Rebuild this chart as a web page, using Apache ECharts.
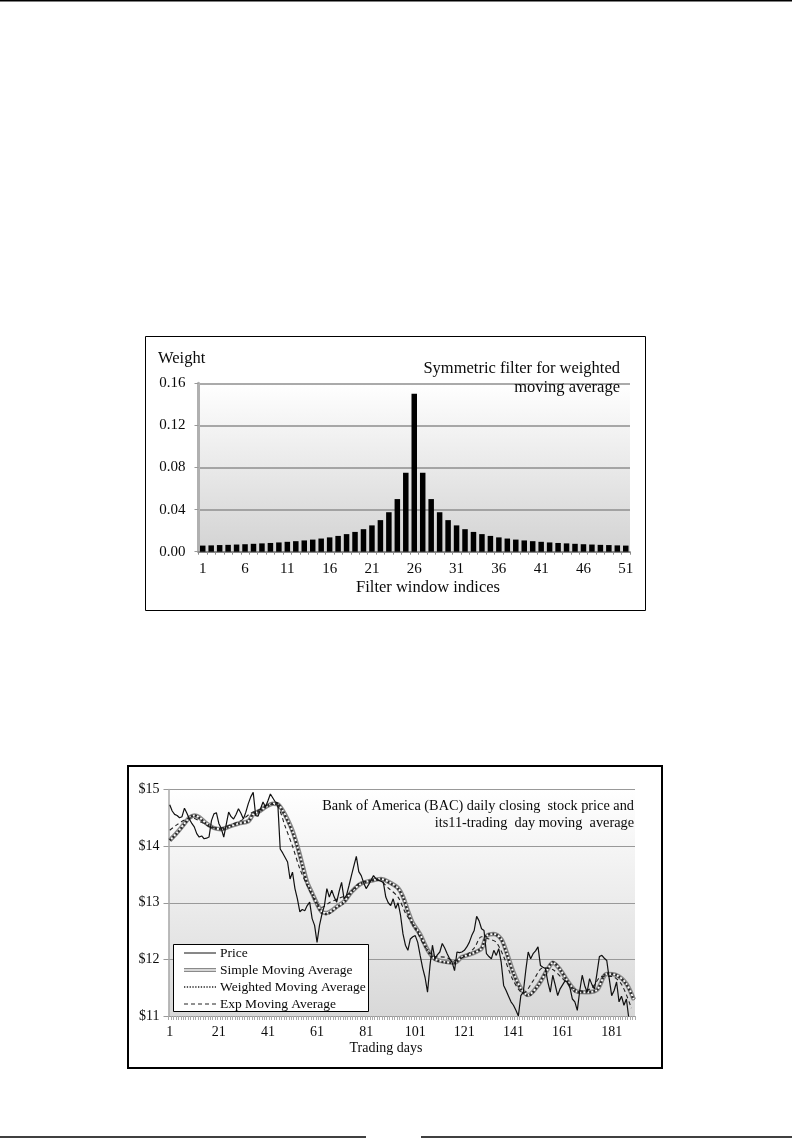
<!DOCTYPE html>
<html>
<head>
<meta charset="utf-8">
<script src="https://cdn.jsdelivr.net/npm/echarts@6/dist/echarts.min.js"></script>
<style>
html,body{margin:0;padding:0;background:#fff;}
#c{width:792px;height:1142px;}
</style>
</head>
<body>
<div id="c"></div>
<script>
// ---------- Chart 1 data ----------
var filterIndices = [];
for (var i = 1; i <= 51; i++) filterIndices.push(String(i));
var filterWeights = [0.0058,0.0060,0.0063,0.0065,0.0068,0.0071,0.0075,0.0079,0.0083,0.0088,0.0094,0.0100,0.0107,0.0115,0.0125,0.0136,0.0150,0.0167,0.0188,0.0214,0.0250,0.0300,0.0375,0.0500,0.0750,0.1500,0.0750,0.0500,0.0375,0.0300,0.0250,0.0214,0.0188,0.0167,0.0150,0.0136,0.0125,0.0115,0.0107,0.0100,0.0094,0.0088,0.0083,0.0079,0.0075,0.0071,0.0068,0.0065,0.0063,0.0060,0.0058];
var weightTicks = [0, 0.04, 0.08, 0.12, 0.16];

// ---------- Chart 2 data ----------
var tradingDays = [];
for (var d = 1; d <= 190; d++) tradingDays.push(String(d));
var price = [14.73,14.62,14.56,14.54,14.50,14.52,14.67,14.58,14.48,14.40,
14.34,14.22,14.16,14.18,14.13,14.14,14.16,14.45,14.57,14.59,
14.40,14.31,14.16,14.38,14.60,14.52,14.48,14.56,14.66,14.58,
14.48,14.60,14.75,14.87,14.95,14.54,14.53,14.66,14.78,14.69,
14.80,14.92,14.85,14.78,14.76,13.95,13.88,13.80,13.72,13.42,
13.54,13.25,13.07,12.84,12.88,12.86,12.95,13.01,12.72,12.60,
12.30,12.60,12.80,12.95,13.25,13.10,13.22,13.10,13.01,13.20,
13.36,13.07,13.13,13.30,13.48,13.65,13.82,13.55,13.48,13.35,
13.25,13.32,13.40,13.48,13.42,13.40,13.38,13.36,13.10,13.00,
12.95,13.07,12.90,13.00,12.78,12.45,12.25,12.16,12.36,12.40,
12.42,12.30,12.07,11.85,11.68,11.42,11.89,12.25,12.01,12.08,
12.13,12.28,12.20,12.10,12.01,11.95,11.80,12.13,12.12,12.13,
12.16,12.22,12.30,12.42,12.51,12.76,12.68,12.54,12.51,12.10,
12.05,12.01,12.16,12.07,12.19,11.95,11.54,11.45,11.35,11.25,
11.19,11.10,11.00,11.36,11.42,11.80,12.13,12.01,12.10,12.15,
12.22,11.89,11.86,11.84,11.60,11.42,11.72,11.55,11.36,11.48,
11.55,11.62,11.60,11.50,11.30,11.25,11.10,11.45,11.72,11.54,
11.42,11.66,11.55,11.48,11.75,12.05,12.07,12.02,11.98,11.66,
11.36,11.45,11.60,11.25,11.35,11.19,11.30,10.95];

var smaDays = [1,4,7,9,11,13,16,19,22,25,29,33,35,38,40,43,45,47,49,51,53,55,57,59,61,63,65,67,69,72,75,79,83,87,91,94,96,98,100,103,106,109,113,117,120,124,128,130,133,136,138,141,144,147,151,155,157,160,163,167,171,175,179,183,187,190];
var smaValues = [14.10,14.24,14.40,14.50,14.54,14.51,14.40,14.32,14.30,14.34,14.40,14.44,14.56,14.63,14.69,14.75,14.74,14.63,14.47,14.27,14.00,13.68,13.36,13.17,12.98,12.84,12.82,12.86,12.93,13.02,13.19,13.34,13.39,13.42,13.35,13.26,13.11,12.86,12.64,12.44,12.17,12.01,11.96,11.94,12.04,12.10,12.19,12.41,12.45,12.36,12.15,11.77,11.49,11.37,11.54,11.83,11.94,11.82,11.62,11.43,11.42,11.46,11.74,11.72,11.57,11.29];
var wmaDays = [1,4,7,9,11,13,16,19,22,25,29,33,35,38,40,43,45,47,49,51,53,55,57,59,61,63,65,67,69,72,75,79,83,87,91,94,96,98,100,103,106,109,113,117,120,124,128,130,133,136,138,141,144,147,151,155,157,160,163,167,171,175,179,183,187,190];
var wmaValues = [14.10,14.23,14.39,14.50,14.54,14.50,14.39,14.32,14.30,14.34,14.40,14.44,14.57,14.63,14.69,14.75,14.74,14.62,14.45,14.25,13.98,13.66,13.34,13.16,12.97,12.82,12.80,12.85,12.92,13.01,13.19,13.34,13.39,13.42,13.34,13.25,13.10,12.84,12.62,12.43,12.16,12.00,11.95,11.94,12.04,12.10,12.20,12.42,12.45,12.35,12.13,11.75,11.48,11.36,11.54,11.84,11.95,11.82,11.62,11.42,11.42,11.46,11.75,11.72,11.56,11.28];
var emaDays = [1,4,7,10,14,18,22,26,30,34,38,42,45,48,51,54,57,60,63,66,70,74,78,82,86,90,94,97,101,105,109,113,117,121,125,128,131,134,137,141,145,149,153,157,161,165,169,173,177,181,185,189];
var emaValues = [14.28,14.38,14.46,14.50,14.42,14.33,14.32,14.38,14.45,14.58,14.65,14.74,14.70,14.35,14.00,13.60,13.30,13.05,12.92,13.00,13.08,13.16,13.34,13.38,13.40,13.26,13.10,12.82,12.55,12.22,12.05,12.04,11.98,12.05,12.20,12.40,12.36,12.30,12.05,11.62,11.40,11.62,11.85,11.82,11.66,11.50,11.44,11.50,11.70,11.70,11.56,11.14];
var priceTicks = [11, 12, 13, 14, 15];

function pairs(days, vals) {
  return days.map(function (d, i) { return [d - 1, vals[i]]; });
}

var serif = '"Liberation Serif", "DejaVu Serif", serif';
var ink = '#0a0a0a';
function grad(bottom) {
  return { type: 'linear', x: 0, y: 0, x2: 0, y2: 1,
    colorStops: [{ offset: 0, color: '#ffffff' }, { offset: 1, color: bottom }] };
}

var chart = echarts.init(document.getElementById('c'), null, { renderer: 'canvas' });

var option = {
  animation: false,
  backgroundColor: '#ffffff',
  grid: [
    { left: 198.5, right: 162, top: 383.3, bottom: 590.3, show: true, borderWidth: 0, backgroundColor: grad('#d3d3d3') },
    { left: 168.5, right: 157, top: 789.5, bottom: 126, show: true, borderWidth: 0, backgroundColor: grad('#d8d8d8') }
  ],
  xAxis: [
    { type: 'category', gridIndex: 0, data: filterIndices, boundaryGap: true,
      axisLine: { show: true, lineStyle: { color: '#7a7a7a', width: 1.5 } },
      axisTick: { show: true, interval: 0, length: 3, lineStyle: { color: '#888' } },
      axisLabel: { interval: 4, margin: 10, color: ink, fontFamily: serif, fontSize: 15 } },
    { type: 'category', gridIndex: 1, data: tradingDays, boundaryGap: true,
      axisLine: { show: true, lineStyle: { color: '#999', width: 1 } },
      axisTick: { show: true, interval: 0, length: 4, lineStyle: { color: '#aaa' } },
      axisLabel: { interval: 19, margin: 9, color: ink, fontFamily: serif, fontSize: 14 } }
  ],
  yAxis: [
    { type: 'value', gridIndex: 0, min: weightTicks[0], max: weightTicks[4], interval: 0.04,
      axisLine: { show: true, lineStyle: { color: '#b0b0b0', width: 3 } },
      axisTick: { show: true, length: 4, lineStyle: { color: '#999' } },
      axisLabel: { margin: 13, color: ink, fontFamily: serif, fontSize: 15,
        formatter: function (v) { return v.toFixed(2); } },
      splitLine: { show: true, lineStyle: { color: '#8e8e8e', width: 1.5 } } },
    { type: 'value', gridIndex: 1, min: priceTicks[0], max: priceTicks[4], interval: 1,
      axisLine: { show: true, lineStyle: { color: '#a8a8a8', width: 1.5 } },
      axisTick: { show: true, length: 5, lineStyle: { color: '#999' } },
      axisLabel: { margin: 9, color: ink, fontFamily: serif, fontSize: 14,
        formatter: function (v) { return '$' + v; } },
      splitLine: { show: true, lineStyle: { color: '#999', width: 1.2 } } }
  ],
  series: [
    { name: 'Weight', type: 'bar', xAxisIndex: 0, yAxisIndex: 0, data: filterWeights,
      barWidth: 5.5, itemStyle: { color: '#000' } },
    { name: 'Simple Moving Average', type: 'line', xAxisIndex: 1, yAxisIndex: 1,
      data: pairs(smaDays, smaValues), smooth: 0.3, symbol: 'none',
      lineStyle: { color: '#8a8a8a', width: 4.5 } },
    { name: 'SMA inner', type: 'line', xAxisIndex: 1, yAxisIndex: 1,
      data: pairs(smaDays, smaValues), smooth: 0.3, symbol: 'none',
      lineStyle: { color: '#ffffff', width: 1.5 } },
    { name: 'Weighted Moving Average', type: 'line', xAxisIndex: 1, yAxisIndex: 1,
      data: pairs(wmaDays, wmaValues), smooth: 0.3, symbol: 'none',
      lineStyle: { color: '#2a2a2a', width: 2.5, type: [2, 2] } },
    { name: 'Exp Moving Average', type: 'line', xAxisIndex: 1, yAxisIndex: 1,
      data: pairs(emaDays, emaValues), smooth: 0.3, symbol: 'none',
      lineStyle: { color: '#222', width: 1.1, type: [4, 3] } },
    { name: 'Price', type: 'line', xAxisIndex: 1, yAxisIndex: 1,
      data: price, symbol: 'none', clip: true,
      lineStyle: { color: '#111', width: 1.2 } }
  ],
  graphic: [
    // page rules
    { type: 'line', shape: { x1: 0, y1: 0.75, x2: 792, y2: 0.75 }, style: { stroke: '#000', lineWidth: 1.5 } },
    { type: 'line', shape: { x1: 0, y1: 1137, x2: 366, y2: 1137 }, style: { stroke: '#000', lineWidth: 1.5 } },
    { type: 'line', shape: { x1: 421, y1: 1137, x2: 792, y2: 1137 }, style: { stroke: '#000', lineWidth: 1.5 } },
    // chart 1 frame and texts
    { type: 'rect', shape: { x: 145.5, y: 336.5, width: 500, height: 274 }, style: { fill: 'none', stroke: '#000', lineWidth: 1 }, z: 10 },
    { type: 'text', x: 158, y: 359, style: { text: 'Weight', font: '16.5px ' + serif, fill: ink, textVerticalAlign: 'middle' }, z: 10 },
    { type: 'text', x: 620, y: 369, style: { text: 'Symmetric filter for weighted', font: '16.5px ' + serif, fill: ink, textAlign: 'right', textVerticalAlign: 'middle' }, z: 10 },
    { type: 'text', x: 620, y: 388, style: { text: 'moving average', font: '16.5px ' + serif, fill: ink, textAlign: 'right', textVerticalAlign: 'middle' }, z: 10 },
    { type: 'text', x: 428, y: 588, style: { text: 'Filter window indices', font: '16.5px ' + serif, fill: ink, textAlign: 'center', textVerticalAlign: 'middle' }, z: 10 },
    // chart 2 frame and texts
    { type: 'rect', shape: { x: 128, y: 766, width: 534, height: 302 }, style: { fill: 'none', stroke: '#000', lineWidth: 2 }, z: 10 },
    { type: 'text', x: 634, y: 806, style: { text: 'Bank of America (BAC) daily closing  stock price and', font: '14.3px ' + serif, fill: ink, textAlign: 'right', textVerticalAlign: 'middle' }, z: 10 },
    { type: 'text', x: 634, y: 823, style: { text: 'its11-trading  day moving  average', font: '14.3px ' + serif, fill: ink, textAlign: 'right', textVerticalAlign: 'middle' }, z: 10 },
    { type: 'text', x: 386, y: 1048, style: { text: 'Trading days', font: '14px ' + serif, fill: ink, textAlign: 'center', textVerticalAlign: 'middle' }, z: 10 },
    // legend
    { type: 'rect', shape: { x: 173.5, y: 944.5, width: 195, height: 67 }, style: { fill: '#fff', stroke: '#000', lineWidth: 1 }, z: 20 },
    { type: 'line', shape: { x1: 184, y1: 953, x2: 216, y2: 953 }, style: { stroke: '#111', lineWidth: 1 }, z: 21 },
    { type: 'line', shape: { x1: 184, y1: 970, x2: 216, y2: 970 }, style: { stroke: '#8a8a8a', lineWidth: 4 }, z: 21 },
    { type: 'line', shape: { x1: 184, y1: 970, x2: 216, y2: 970 }, style: { stroke: '#fff', lineWidth: 1.3 }, z: 22 },
    { type: 'line', shape: { x1: 184, y1: 987, x2: 216, y2: 987 }, style: { stroke: '#222', lineWidth: 1.3, lineDash: [1.3, 1.5] }, z: 21 },
    { type: 'line', shape: { x1: 184, y1: 1004, x2: 216, y2: 1004 }, style: { stroke: '#222', lineWidth: 1, lineDash: [4, 3] }, z: 21 },
    { type: 'text', x: 220, y: 953, style: { text: 'Price', font: '13.5px ' + serif, fill: ink, textVerticalAlign: 'middle' }, z: 21 },
    { type: 'text', x: 220, y: 970, style: { text: 'Simple Moving Average', font: '13.5px ' + serif, fill: ink, textVerticalAlign: 'middle' }, z: 21 },
    { type: 'text', x: 220, y: 987, style: { text: 'Weighted Moving Average', font: '13.5px ' + serif, fill: ink, textVerticalAlign: 'middle' }, z: 21 },
    { type: 'text', x: 220, y: 1004, style: { text: 'Exp Moving Average', font: '13.5px ' + serif, fill: ink, textVerticalAlign: 'middle' }, z: 21 }
  ]
};
chart.setOption(option);
</script>
</body>
</html>
